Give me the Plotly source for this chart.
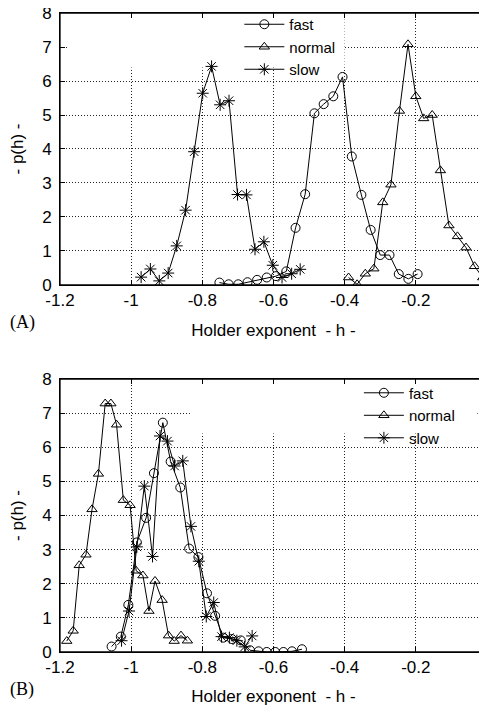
import plotly.graph_objects as go
from plotly.subplots import make_subplots

# (A) top panel
a_fast_h = [-0.752, -0.726, -0.699, -0.673, -0.646, -0.619, -0.593, -0.564, -0.538, -0.511,
            -0.485, -0.459, -0.432, -0.406, -0.380, -0.353, -0.327, -0.300, -0.274, -0.248,
            -0.221, -0.195]
a_fast_p = [0.07, 0.02, 0.02, 0.08, 0.15, 0.22, 0.26, 0.40, 1.68, 2.67,
            5.05, 5.32, 5.55, 6.12, 3.78, 2.65, 1.62, 0.88, 0.88, 0.32,
            0.18, 0.32]

a_normal_h = [-0.389, -0.365, -0.342, -0.318, -0.293, -0.270, -0.246, -0.222, -0.200, -0.178,
              -0.154, -0.131, -0.107, -0.083, -0.059, -0.035, -0.012]
a_normal_p = [0.22, 0.02, 0.33, 0.48, 2.43, 2.95, 5.12, 7.08, 5.55, 4.90,
              5.00, 3.37, 1.75, 1.43, 1.10, 0.55, 0.22]

a_slow_h = [-0.972, -0.946, -0.921, -0.896, -0.872, -0.847, -0.823, -0.799, -0.774, -0.750,
            -0.725, -0.701, -0.676, -0.652, -0.627, -0.602, -0.576, -0.549, -0.525]
a_slow_p = [0.23, 0.47, 0.12, 0.35, 1.15, 2.20, 3.92, 5.64, 6.43, 5.30,
            5.42, 2.66, 2.65, 1.05, 1.27, 0.58, 0.22, 0.33, 0.46]

# (B) bottom panel
b_fast_h = [-1.055, -1.029, -1.008, -0.984, -0.958, -0.936, -0.911, -0.889, -0.862, -0.837,
            -0.811, -0.787, -0.764, -0.741, -0.717, -0.692, -0.666, -0.642, -0.619, -0.595,
            -0.572, -0.548, -0.520]
b_fast_p = [0.16, 0.45, 1.38, 3.21, 3.93, 5.24, 6.72, 5.58, 4.82, 3.03,
            2.78, 1.72, 1.06, 0.42, 0.38, 0.34, 0.05, 0.02, 0.0, 0.0,
            0.0, 0.02, 0.08]

b_normal_h = [-1.181, -1.163, -1.146, -1.127, -1.110, -1.092, -1.073, -1.057, -1.041, -1.022,
              -1.003, -0.986, -0.967, -0.950, -0.933, -0.913, -0.895, -0.879, -0.860, -0.842]
b_normal_p = [0.32, 0.62, 2.54, 2.85, 4.18, 5.22, 7.28, 7.28, 6.66, 4.45,
              4.30, 2.38, 2.24, 1.20, 2.08, 1.52, 0.48, 0.32, 0.48, 0.33]

b_slow_h = [-1.027, -1.006, -0.984, -0.963, -0.940, -0.919, -0.898, -0.878, -0.855, -0.832,
            -0.810, -0.789, -0.768, -0.746, -0.724, -0.703, -0.681, -0.660]
b_slow_p = [0.33, 1.20, 3.08, 4.86, 2.80, 6.33, 6.18, 5.45, 5.60, 3.68,
            2.66, 1.04, 1.45, 0.45, 0.42, 0.33, 0.15, 0.47]

x_ticks = [-1.2, -1, -0.8, -0.6, -0.4, -0.2, 0]
x_tick_text = ["-1.2", "-1", "-0.8", "-0.6", "-0.4", "-0.2", "0"]
y_ticks = [0, 1, 2, 3, 4, 5, 6, 7, 8]

FONT = "Liberation Sans, Arial, sans-serif"
SERIF = "Liberation Serif, Times New Roman, serif"

fig = make_subplots(rows=2, cols=1)

serier = [
    (1, "legend", a_fast_h, a_fast_p, a_normal_h, a_normal_p, a_slow_h, a_slow_p),
    (2, "legend2", b_fast_h, b_fast_p, b_normal_h, b_normal_p, b_slow_h, b_slow_p),
]
for rad, leg, fh, fp, nh, np_, sh, sp in serier:
    for namn, hx, py, sym, size in [
        ("fast", fh, fp, "circle-open", 9),
        ("normal", nh, np_, "triangle-up-open", 9),
        ("slow", sh, sp, "asterisk-open", 10),
    ]:
        fig.add_trace(go.Scatter(
            x=hx, y=py, name=namn, mode="lines+markers", legend=leg,
            line=dict(color="black", width=1),
            marker=dict(symbol=sym, size=size, color="black", line=dict(color="black", width=1)),
        ), row=rad, col=1)

axel = dict(
    range=[-1.2, 0], tickvals=x_ticks, ticktext=x_tick_text,
    showgrid=True, gridcolor="#222", griddash="1px,2px", gridwidth=1,
    showline=True, linecolor="black", linewidth=1, mirror="ticks",
    ticks="inside", ticklen=5, tickcolor="black", zeroline=False,
    tickfont=dict(family=FONT, size=17, color="black"), ticklabeloverflow="allow",
    title=dict(text="Holder exponent  - h -", font=dict(family=FONT, size=17, color="black"), standoff=14),
    automargin=False,
)
yaxel = dict(
    range=[0, 8], tickvals=y_ticks,
    showgrid=True, gridcolor="#222", griddash="1px,2px", gridwidth=1,
    showline=True, linecolor="black", linewidth=1, mirror="ticks",
    ticks="inside", ticklen=5, tickcolor="black", zeroline=False,
    tickfont=dict(family=FONT, size=17, color="black"), ticklabelstandoff=4,
    ticklabeloverflow="allow",
    title=dict(text="- p(h) -", font=dict(family=FONT, size=17, color="black"), standoff=19),
    automargin=False,
)
fig.update_xaxes(**axel)
fig.update_yaxes(**yaxel)
# page body has an 8px margin, so the figure is 8px smaller than the window
fig.update_layout(
    yaxis=dict(domain=[0.6032, 0.9928]),
    yaxis2=dict(domain=[0.0774, 0.4685]),
)

# gnuplot style: the key blanks the grid behind it
fig.add_shape(type="rect", xref="x", yref="y", x0=-1.177, x1=-0.4, y0=6.4, y1=8,
              fillcolor="white", line=dict(width=0), layer="between")
fig.add_shape(type="rect", xref="x2", yref="y2", x0=-0.835, x1=-0.027, y0=6.4, y1=8,
              fillcolor="white", line=dict(width=0), layer="between")
# frame round each panel
for xr, yr in [("x domain", "y domain"), ("x2 domain", "y2 domain")]:
    fig.add_shape(type="rect", xref=xr, yref=yr, x0=0, x1=1, y0=0, y1=1,
                  line=dict(color="black", width=1.3), layer="above")

legstil = dict(font=dict(family=FONT, size=15, color="black"), bgcolor="rgba(0,0,0,0)",
               tracegroupgap=0, itemwidth=40, xanchor="left", yanchor="top")
fig.update_layout(
    legend=dict(x=0.42, y=1.0, **legstil),
    legend2=dict(x=0.70, y=0.472, **legstil),
)

fig.add_annotation(text="(A)", xref="paper", yref="paper", x=-0.122, y=0.549, xanchor="left",
                   yanchor="middle", showarrow=False,
                   font=dict(family=SERIF, size=18, color="black"))
fig.add_annotation(text="(B)", xref="paper", yref="paper", x=-0.122, y=0.023, xanchor="left",
                   yanchor="middle", showarrow=False,
                   font=dict(family=SERIF, size=18, color="black"))

fig.update_layout(
    width=479, height=698,
    margin=dict(l=52, r=0, t=0, b=0),
    plot_bgcolor="white", paper_bgcolor="white",
)

fig.write_html("out.html")
